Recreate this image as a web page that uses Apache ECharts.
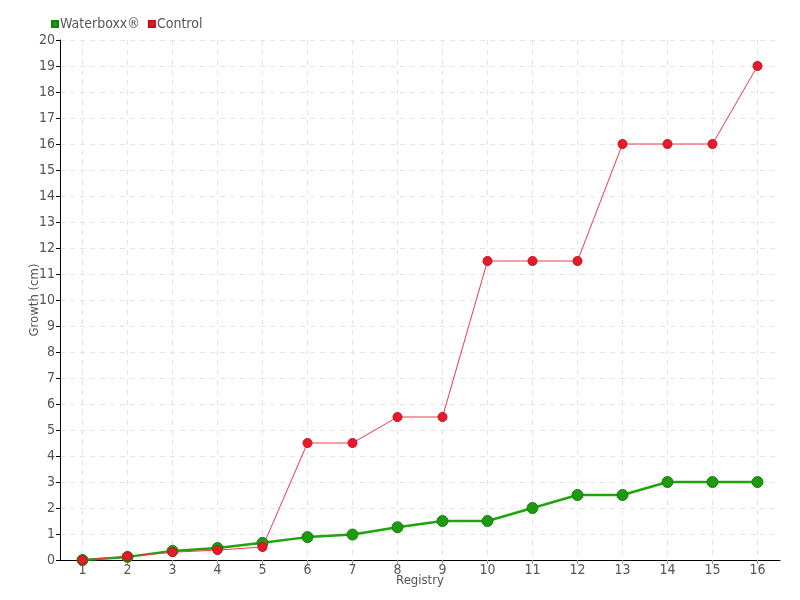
<!DOCTYPE html>
<html><head><meta charset="utf-8">
<script src="https://cdn.jsdelivr.net/npm/echarts@6/dist/echarts.min.js"></script>
<style>html,body{margin:0;padding:0;background:#fff}#c{width:800px;height:600px}</style>
</head><body><div id="c"></div>
<script>
const categories = ['1','2','3','4','5','6','7','8','9','10','11','12','13','14','15','16'];
const waterboxx = [0, 0.12, 0.35, 0.46, 0.66, 0.88, 0.98, 1.26, 1.5, 1.5, 2.0, 2.5, 2.5, 3.0, 3.0, 3.0];
const control = [0, 0.14, 0.3, 0.38, 0.5, 4.5, 4.5, 5.5, 5.5, 11.5, 11.5, 11.5, 16, 16, 16, 19];
const seriesNames = ['Waterboxx®', 'Control'];
const yTicks = {min: 0, max: 20, interval: 1};

const FONT = '"DejaVu Sans Condensed", "Liberation Sans Narrow", sans-serif';
const chart = echarts.init(document.getElementById('c'));
chart.setOption({
  animation: false,
  textStyle: {fontFamily: FONT},
  legend: {
    left: 46, top: 12, itemWidth: 6, itemHeight: 6, itemGap: 8, icon: 'rect',
    textStyle: {color: '#555', fontSize: 14, fontFamily: FONT, padding: [0,0,0,-3]},
    data: seriesNames
  },
  grid: {left: 60, right: 20, top: 40, bottom: 40},
  xAxis: {
    type: 'category', data: categories, boundaryGap: true,
    name: 'Registry', nameLocation: 'middle', nameGap: 14, nameMoveOverlap: false,
    nameTextStyle: {color: '#555', fontSize: 13, fontFamily: FONT},
    axisLine: {lineStyle: {color: '#000', width: 1}},
    axisTick: {show: true, alignWithLabel: true, length: 4, lineStyle: {color: '#999'}},
    axisLabel: {color: '#555', fontSize: 14, margin: 3, fontFamily: FONT},
    splitLine: {show: true, alignWithLabel: true, lineStyle: {color: '#e4e4e4', type: [5, 5], width: 1}}
  },
  yAxis: {
    type: 'value', min: yTicks.min, max: yTicks.max, interval: yTicks.interval,
    name: 'Growth (cm)', nameLocation: 'middle', nameGap: 19, nameRotate: 90, nameMoveOverlap: false,
    nameTextStyle: {color: '#555', fontSize: 13, fontFamily: FONT},
    axisLine: {show: true, lineStyle: {color: '#000', width: 1}},
    axisTick: {show: true, length: 4, lineStyle: {color: '#000'}},
    axisLabel: {color: '#555', fontSize: 14, margin: 5, fontFamily: FONT},
    splitLine: {show: true, lineStyle: {color: '#e4e4e4', type: [5, 5], width: 1}}
  },
  series: [
    {
      name: seriesNames[0], type: 'line', data: waterboxx,
      symbol: 'circle', symbolSize: 11, z: 3,
      color: '#1d9e0e',
      lineStyle: {color: '#1ea50c', width: 2.5},
      itemStyle: {color: '#1d9a10', borderColor: '#14800a', borderWidth: 1}
    },
    {
      name: seriesNames[1], type: 'line', data: control,
      symbol: 'circle', symbolSize: 9, z: 4,
      color: '#ee1c2c',
      lineStyle: {color: '#f0384a', width: 1},
      itemStyle: {color: '#e81a2a', borderColor: '#c01020', borderWidth: 1}
    }
  ]
});
</script></body></html>
